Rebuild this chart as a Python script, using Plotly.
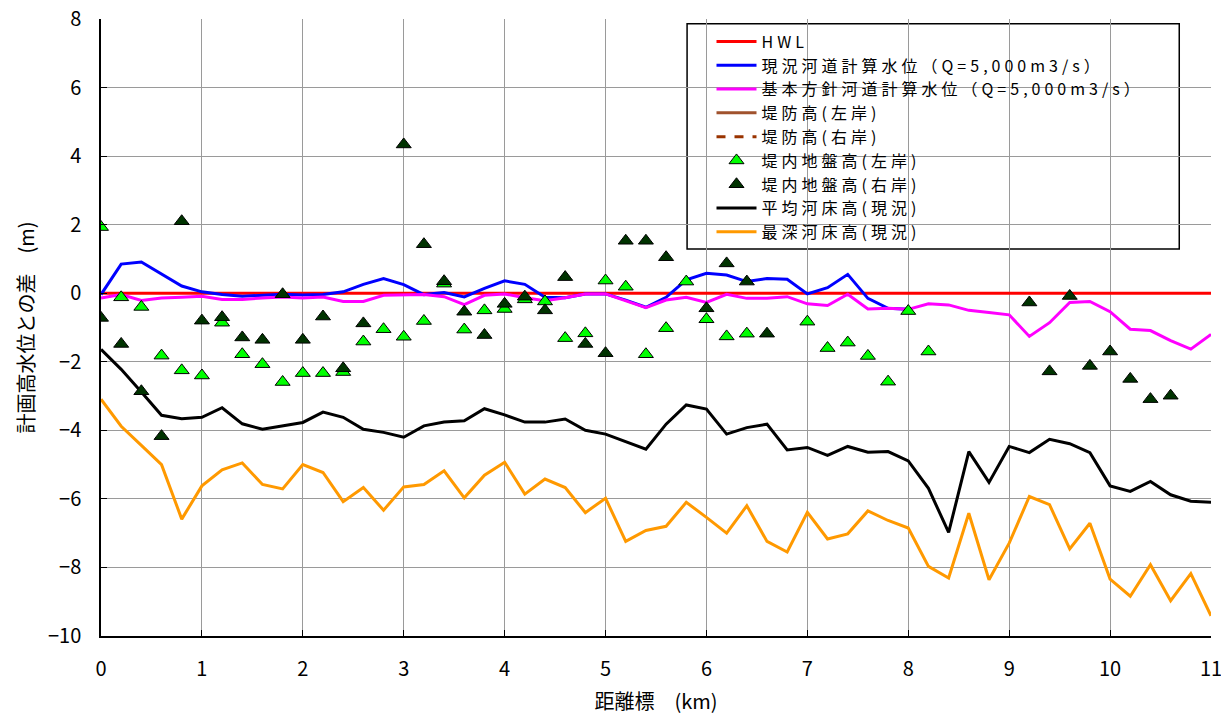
import plotly.graph_objects as go

# ---- data ----
km = [round(i * 0.2, 1) for i in range(56)]

hwl = [0.0] * 56

genkyo_wl = [-0.04, 0.85, 0.91, 0.55, 0.21, 0.04, -0.04, -0.09, -0.07, -0.03,
             -0.05, -0.04, 0.04, 0.26, 0.43, 0.25, -0.04, 0.02, -0.11, 0.14,
             0.36, 0.26, -0.12, -0.13, -0.02, -0.02, -0.20, -0.41, -0.12, 0.39,
             0.58, 0.53, 0.34, 0.43, 0.41, -0.02, 0.16, 0.55, -0.15, -0.44,
             -0.47]

kihon_wl = [-0.14, -0.04, -0.21, -0.14, -0.12, -0.09, -0.18, -0.18, -0.14, -0.11,
            -0.14, -0.11, -0.24, -0.24, -0.06, -0.06, -0.04, -0.10, -0.33, -0.06,
            -0.02, -0.13, -0.22, -0.13, -0.02, -0.02, -0.22, -0.42, -0.20, -0.12,
            -0.27, -0.03, -0.15, -0.15, -0.10, -0.31, -0.36, -0.03, -0.46, -0.44,
            -0.47, -0.31, -0.34, -0.50, -0.56, -0.63, -1.26, -0.86, -0.27, -0.24,
            -0.54, -1.05, -1.09, -1.38, -1.63, -1.20]

ground_left = [1.93, -0.12, -0.40, -1.82, -2.25, -2.40, -0.86, -1.78, -2.07, -2.59,
               -2.33, -2.33, -2.30, -1.41, -1.05, -1.27, -0.81, 0.28, -1.06, -0.50,
               -0.46, -0.18, -0.24, -1.31, -1.17, 0.37, 0.19, -1.78, -1.02, 0.34,
               -0.76, -1.26, -1.18, None, None, -0.83, -1.60, -1.44, -1.83, -2.58,
               -0.52, -1.70, None, None, None, None, None, None, None, None,
               None, None, None, None, None, None]

ground_right = [-0.72, -1.48, -2.86, -4.17, 2.10, -0.80, -0.70, -1.29, -1.36, -0.03,
                -1.36, -0.68, -2.19, -0.88, None, 4.34, 1.43, 0.35, -0.54, -1.22,
                -0.31, -0.10, -0.50, 0.47, -1.48, -1.75, 1.53, 1.53, 1.05, None,
                -0.44, 0.87, 0.34, -1.18, None, None, None, None, None, None,
                None, None, None, None, None, None, -0.27, -2.28, -0.08, -2.12,
                -1.70, -2.50, -3.09, -2.99, None, None]

avg_bed = [-1.64, -2.22, -2.88, -3.56, -3.66, -3.62, -3.34, -3.81, -3.97, -3.87,
           -3.77, -3.47, -3.62, -3.97, -4.06, -4.20, -3.87, -3.76, -3.72, -3.37,
           -3.55, -3.76, -3.76, -3.67, -4.00, -4.11, -4.33, -4.55, -3.82, -3.26,
           -3.38, -4.11, -3.92, -3.82, -4.57, -4.50, -4.73, -4.47, -4.64, -4.62,
           -4.89, -5.69, -6.98, -4.62, -5.52, -4.47, -4.65, -4.26, -4.39, -4.65,
           -5.62, -5.78, -5.49, -5.88, -6.07, -6.10]

deep_bed = [-3.09, -3.88, -4.44, -5.00, -6.59, -5.62, -5.15, -4.95, -5.58, -5.71,
            -5.00, -5.23, -6.08, -5.67, -6.33, -5.65, -5.58, -5.18, -5.97, -5.31,
            -4.93, -5.86, -5.42, -5.67, -6.40, -5.98, -7.24, -6.92, -6.80, -6.10,
            -6.54, -7.00, -6.20, -7.24, -7.55, -6.39, -7.17, -7.02, -6.35, -6.63,
            -6.85, -7.97, -8.31, -6.42, -8.36, -7.29, -5.93, -6.17, -7.46, -6.71,
            -8.34, -8.84, -7.92, -8.97, -8.18, -9.41]

names = ["HWL",
         "現況河道計算水位（Q=5,000m3/s）",
         "基本方針河道計算水位（Q=5,000m3/s）",
         "堤防高(左岸)",
         "堤防高(右岸)",
         "堤内地盤高(左岸)",
         "堤内地盤高(右岸)",
         "平均河床高(現況)",
         "最深河床高(現況)"]

x_ticks = list(range(0, 12))
y_ticks = list(range(-10, 9, 2))

FONT = "Noto Sans CJK JP"


def spaced(t):
    return '<span style="letter-spacing:4px">' + t + '</span>'


fig = go.Figure()


def line(x, y, name, color, rank, dash="solid", width=3):
    fig.add_trace(go.Scatter(x=x, y=y, mode="lines", name=spaced(name), legendrank=rank,
                             line=dict(color=color, width=width, dash=dash)))


line(km, deep_bed, names[8], "#FF9900", 9)
line(km, avg_bed, names[7], "#000000", 8)
line([None], [None], names[3], "#A0522D", 4)
line([None], [None], names[4], "#993300", 5, dash="dash")
line(km, hwl, names[0], "#FF0000", 1)
line(km[:len(genkyo_wl)], genkyo_wl, names[1], "#0000FF", 2)
line(km, kihon_wl, names[2], "#FF00FF", 3)

fig.add_trace(go.Scatter(x=km, y=ground_left, mode="markers", name=spaced(names[5]), legendrank=6,
                         marker=dict(symbol="triangle-up", size=13, color="#00FF00",
                                     line=dict(color="#000000", width=1))))
fig.add_trace(go.Scatter(x=km, y=ground_right, mode="markers", name=spaced(names[6]), legendrank=7,
                         marker=dict(symbol="triangle-up", size=13, color="#003300",
                                     line=dict(color="#000000", width=1))))

axis_common = dict(
    showgrid=True, gridcolor="#9A9A9A", gridwidth=1,
    showline=True, linecolor="#000000", linewidth=1.5,
    ticks="inside", ticklen=6, tickcolor="#000000", tickwidth=1,
    zeroline=False, tickfont=dict(family=FONT, size=20, color="#000000"),
    automargin=False, ticklabeloverflow="allow",
)

fig.update_xaxes(range=[0, 11], tickvals=x_ticks, ticklabelstandoff=14,
                 title=dict(text="距離標　(km)", font=dict(family=FONT, size=20, color="#000000"),
                            standoff=14),
                 **axis_common)
fig.update_yaxes(range=[-10, 8], tickvals=y_ticks, ticklabelstandoff=14,
                 title=dict(text="計画高水位との差　(m)", font=dict(family=FONT, size=20, color="#000000"),
                            standoff=8),
                 **axis_common)

# legend frame
fig.add_shape(type="rect", xref="paper", yref="paper", x0=0.528, x1=0.9714, y0=0.6274, y1=0.9924,
              line=dict(color="#000000", width=1.5), fillcolor="#FFFFFF", layer="between")

fig.update_layout(
    width=1221, height=718,
    margin=dict(l=101, r=10, t=19, b=82),
    paper_bgcolor="#FFFFFF", plot_bgcolor="#FFFFFF",
    font=dict(family=FONT, color="#000000"),
    showlegend=True,
    legend=dict(x=0.55, y=0.991, xanchor="left", yanchor="top",
                bgcolor="rgba(0,0,0,0)", borderwidth=0,
                font=dict(family=FONT, size=16, color="#000000"),
                traceorder="normal", itemwidth=40),
)

fig.write_html("out.html", config={"displayModeBar": False},
               post_script="document.body.style.margin='0';document.body.style.overflow='hidden';")
